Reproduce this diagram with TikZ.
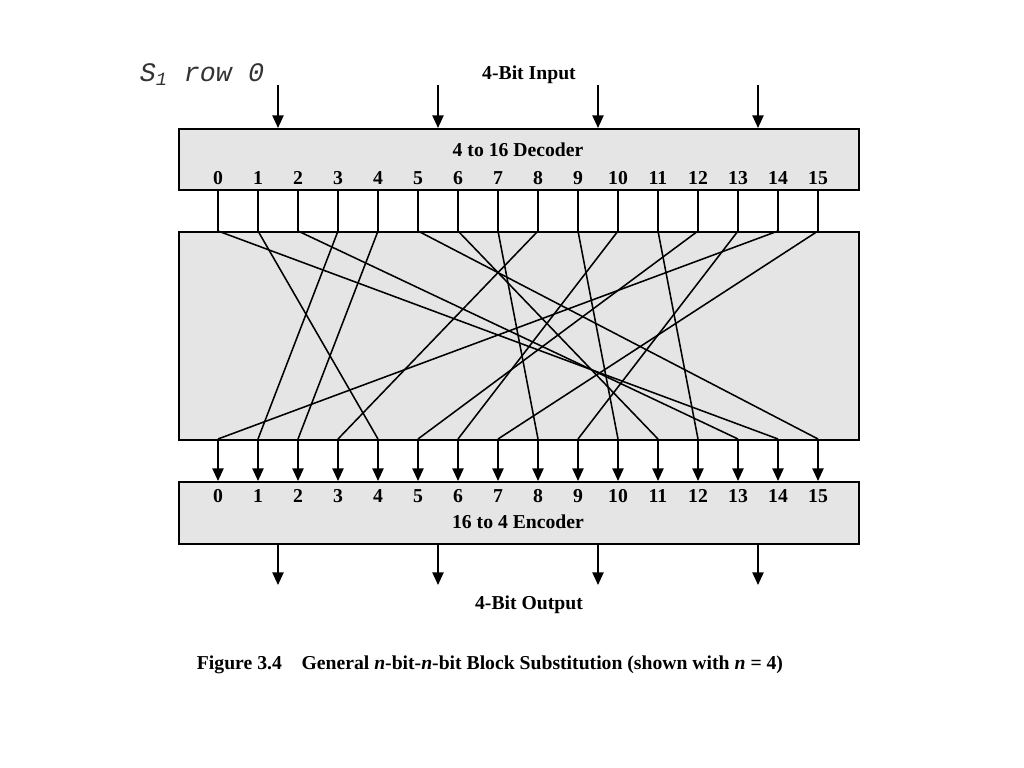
\documentclass[tikz,border=0pt]{standalone}
\usepackage{fontspec}
\setmainfont{Liberation Serif}
\newfontfamily\codefont{Liberation Mono}
\usetikzlibrary{arrows.meta}
\begin{document}
\begin{tikzpicture}[font=\fontsize{14}{16}\selectfont\bfseries,
    box/.style={draw, line width=1.1pt, fill=gray!20, minimum width=17cm, anchor=north west, inner sep=0pt},
    digit/.style={text height=1.6ex, text depth=0pt, inner sep=0pt},
    wire/.style={line width=1.1pt},
    arr/.style={line width=1.1pt, -{Triangle[length=9pt,width=8pt]}}]
        \useasboundingbox (0,0) rectangle (25.6,-19.2);
        % boxes
        \node[box, minimum height=1.525cm] (dec) at (4.45,-3.2) {};
        \node[box, minimum height=5.2cm] (perm) at (4.45,-5.775) {};
        \node[box, minimum height=1.55cm] (enc) at (4.45,-12.025) {};
        \node (declabel) at (12.95,-3.75) {4 to 16 Decoder};
        \node (enclabel) at (12.95,-13.05) {16 to 4 Encoder};
        \foreach \i in {0,...,15} {
            \node[digit] (d\i) at (5.45 + \i,-4.475) {\i};
            \node[digit] (e\i) at (5.45 + \i,-12.425) {\i};
            \coordinate (t\i) at (5.45 + \i,-5.775);
            \coordinate (b\i) at (5.45 + \i,-10.975);
            \draw[wire](d\i |- dec.south) -- (t\i);
            \draw[arr](b\i) -- (e\i |- enc.north);
        }
        % S-box row
        \foreach \i/\j in {0/14,1/4,2/13,3/1,4/2,5/15,6/11,7/8,8/3,9/10,10/6,11/12,12/5,13/9,14/0,15/7} {
            \draw[wire](t\i) -- (b\j);
        }
        % in and out
        \foreach \k in {0,...,3} {
            \coordinate (in\k) at (6.95 + 4 * \k,-2.125);
            \coordinate (out\k) at (6.95 + 4 * \k,-14.625);
            \draw[arr](in\k) -- (in\k |- dec.north);
            \draw[arr](out\k |- enc.south) -- (out\k);
        }
        \node (inlabel) at (13.225,-1.875) {4-Bit Input};
        \node (outlabel) at (13.225,-15.125) {4-Bit Output};
        \node[text=black!80, font=\fontsize{19}{21}\selectfont\codefont\itshape] (row) at (5.05,-1.875) {S\textsubscript{1} row 0};
        \node (caption) at (12.25,-16.625) {Figure 3.4\quad General \textit{n}-bit-\textit{n}-bit Block Substitution (shown with \textit{n} = 4)};
    \end{tikzpicture}
\end{document}
